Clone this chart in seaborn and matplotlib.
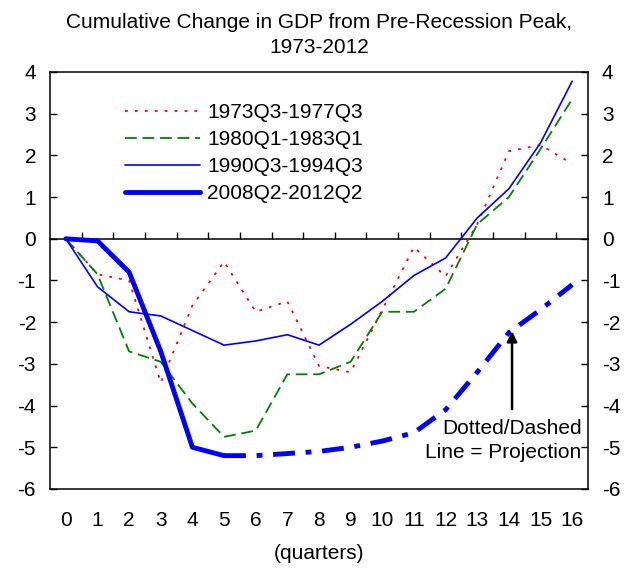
import numpy as np
import pandas as pd
import matplotlib
matplotlib.use('Agg')
import matplotlib.pyplot as plt
import seaborn as sns

# quarters after the pre-recession peak
quarters = list(range(17))

# cumulative % change in GDP
gdp_1973 = [0, -0.85, -1.0, -3.45, -1.6, -0.55, -1.75, -1.5, -3.05, -3.2,
            -1.7, -0.2, -0.9, 0.35, 2.1, 2.25, 1.8]
gdp_1980 = [0, -0.85, -2.7, -2.95, -3.95, -4.75, -4.6, -3.25, -3.25, -2.95,
            -1.75, -1.75, -1.2, 0.35, 1.0, 2.15, 3.35]
gdp_1990 = [0, -1.15, -1.75, -1.85, -2.2, -2.55, -2.45, -2.3, -2.55, -2.05,
            -1.5, -0.88, -0.46, 0.5, 1.2, 2.3, 3.78]
gdp_2008 = [0, -0.05, -0.8, -2.7, -5.0, -5.2, -5.2, -5.15, -5.1, -5.0,
            -4.85, -4.65, -4.1, -3.2, -2.25, -1.7, -1.1]
proj_start = 5  # 2008 series is a projection from here on

labels = ['1973Q3-1977Q3', '1980Q1-1983Q1', '1990Q3-1994Q3', '2008Q2-2012Q2']

df = pd.DataFrame({'quarter': quarters, '1973': gdp_1973, '1980': gdp_1980,
                   '1990': gdp_1990, '2008': gdp_2008})
actual = df[df['quarter'] <= proj_start]
proj = df[df['quarter'] >= proj_start]

sns.set_style('white')
plt.rcParams['font.family'] = ['Liberation Sans', 'DejaVu Sans']
plt.rcParams['font.size'] = 15
plt.rcParams['axes.unicode_minus'] = False
for key in ['text.color', 'axes.labelcolor', 'xtick.color', 'ytick.color']:
    plt.rcParams[key] = 'black'

fig = plt.figure(figsize=(6.3, 5.71), dpi=100)
ax = fig.add_axes([50 / 630, 1 - 489 / 571, 538 / 630, 417 / 571])

sns.lineplot(data=df, x='quarter', y='1973', ax=ax, color='red', lw=1.3,
             linestyle=(0, (1.5, 4)), label=labels[0])
sns.lineplot(data=df, x='quarter', y='1980', ax=ax, color='green', lw=1.3,
             linestyle=(0, (6.5, 3.2)), label=labels[1])
sns.lineplot(data=df, x='quarter', y='1990', ax=ax, color='blue', lw=1.2,
             label=labels[2])
sns.lineplot(data=actual, x='quarter', y='2008', ax=ax, color='blue', lw=3.5,
             label=labels[3])
sns.lineplot(data=proj, x='quarter', y='2008', ax=ax, color='blue', lw=3.5,
             linestyle=(0, (4.5, 2.2, 1.2, 2.2)))

ax.set_xlim(-0.5, 16.5)
ax.set_ylim(-6, 4)
ax.set_xticks(quarters)
ax.set_yticks(range(-6, 5))
ax.tick_params(axis='x', length=0, pad=16)
ax.tick_params(axis='y', which='both', direction='in', length=5, width=1,
               left=True, right=True, labelleft=True, labelright=True, pad=10)
for sp in ax.spines.values():
    sp.set_color('black')
    sp.set_linewidth(1.1)

# zero line with ticks between the quarters
zero = ax.secondary_xaxis(0.6)
zero.set_xticks(np.arange(0.5, 16, 1))
zero.set_xticklabels([])
zero.tick_params(direction='out', length=5, width=1, color='black')
zero.spines['top'].set_linewidth(1.1)
zero.spines['top'].set_color('black')

ax.set_xlabel('(quarters)', labelpad=10)
ax.set_ylabel('')
ax.set_title('Cumulative Change in GDP from Pre-Recession Peak,\n1973-2012',
             fontsize=15, pad=14, linespacing=1.35)

ax.legend(loc='upper left', bbox_to_anchor=(0.139, 0.925), frameon=False,
          handlelength=3.6, handletextpad=0.35, labelspacing=0.38,
          borderpad=0, borderaxespad=0)

ax.annotate('', xy=(14.1, -2.15), xytext=(14.1, -4.15),
            arrowprops=dict(arrowstyle='-|>', color='black', lw=1.8,
                            mutation_scale=15))
ax.text(16.3, -4.84, 'Dotted/Dashed\nLine = Projection', ha='right',
        va='center', multialignment='right', linespacing=1.35)

fig.savefig('out.png', dpi=100)
